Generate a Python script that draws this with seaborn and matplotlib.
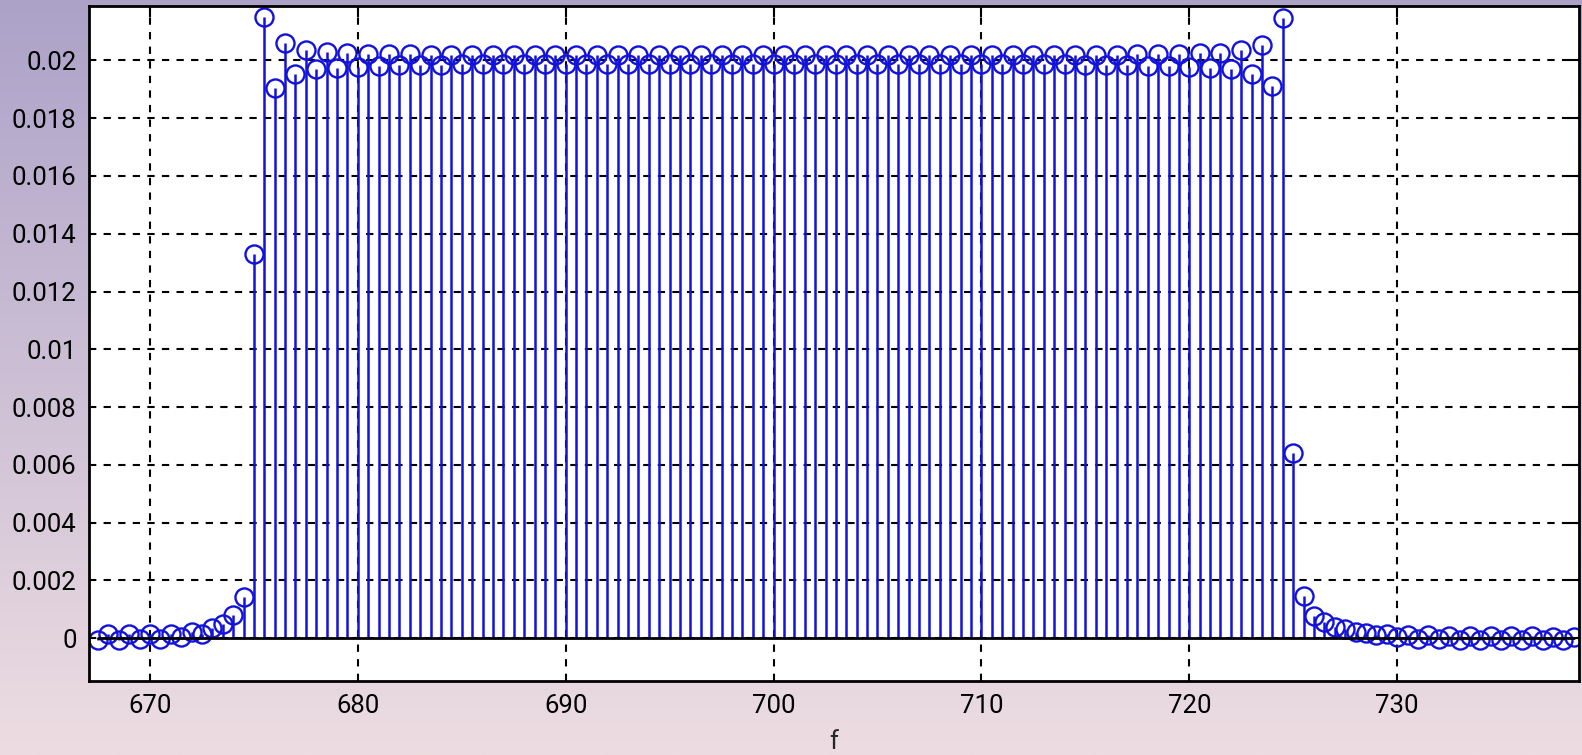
import matplotlib
matplotlib.use("Agg")
import matplotlib.pyplot as plt
import numpy as np
import seaborn as sns

# frequency grid (0.5 step) from 667.5 to 738.5
f = np.arange(667.5, 738.75, 0.5)

# left tail: 667.5 .. 675.0
left_tail = [
    -0.00005, 0.00013, -0.00005, 0.00014, -0.00004, 0.00015, -0.00002, 0.00016,
    0.00003, 0.00020, 0.00016, 0.00034, 0.00048, 0.00080, 0.00144, 0.01330,
]

# pass band: 675.5 .. 724.5
plateau = [
    0.02150, 0.01905, 0.02060, 0.01952, 0.02037, 0.01970, 0.02028, 0.01975,
    0.02024, 0.01978, 0.02022, 0.01981, 0.02021, 0.01983, 0.02021, 0.01984,
    0.02020, 0.01985, 0.02020, 0.01986, 0.02020, 0.01986, 0.02020, 0.01987,
    0.02020, 0.01987, 0.02019, 0.01987, 0.02019, 0.01987, 0.02019, 0.01988,
    0.02019, 0.01988, 0.02019, 0.01988, 0.02019, 0.01988, 0.02019, 0.01988,
    0.02019, 0.01988, 0.02019, 0.01988, 0.02019, 0.01988, 0.02019, 0.01988,
    0.02019, 0.01988, 0.02019, 0.01988, 0.02019, 0.01988, 0.02019, 0.01988,
    0.02019, 0.01988, 0.02019, 0.01988, 0.02019, 0.01988, 0.02019, 0.01988,
    0.02019, 0.01988, 0.02019, 0.01987, 0.02019, 0.01987, 0.02020, 0.01987,
    0.02020, 0.01986, 0.02020, 0.01986, 0.02020, 0.01986, 0.02020, 0.01985,
    0.02020, 0.01985, 0.02020, 0.01983, 0.02021, 0.01981, 0.02021, 0.01979,
    0.02022, 0.01976, 0.02024, 0.01973, 0.02026, 0.01970, 0.02035, 0.01953,
    0.02052, 0.01912, 0.02145,
]

# right tail: 725.0 .. 738.5
right_tail = [
    0.00640, 0.00145, 0.00076, 0.00055, 0.00040, 0.00032, 0.00022, 0.00018,
    0.00010, 0.00014, 0.00004, 0.00012, -0.00003, 0.00010, -0.00004, 0.00009,
    -0.00005, 0.00008, -0.00005, 0.00008, -0.00005, 0.00007, -0.00005, 0.00007,
    -0.00006, 0.00005, -0.00006, 0.00004,
]

amp = np.array(left_tail + plateau + right_tail)

x_ticks = [670, 680, 690, 700, 710, 720, 730]
y_ticks = [0, 0.002, 0.004, 0.006, 0.008, 0.01, 0.012, 0.014, 0.016, 0.018, 0.02]
y_labels = ["0", "0.002", "0.004", "0.006", "0.008", "0.01",
            "0.012", "0.014", "0.016", "0.018", "0.02"]

sns.set_style("white")
plt.rcParams["font.family"] = ["Roboto", "DejaVu Sans"]

fig = plt.figure(figsize=(15.82, 7.55), dpi=100)

# gradient backdrop, purple at the top to pink at the bottom
bg = fig.add_axes([0, 0, 1, 1], zorder=-10)
top = np.array([172, 162, 200]) / 255
bottom = np.array([237, 221, 226]) / 255
t = np.linspace(0, 1, 256)[:, None]
grad = top * (1 - t) + bottom * t
bg.imshow(grad[:, None, :].repeat(2, axis=1), aspect="auto", extent=[0, 1, 0, 1])
bg.axis("off")

ax = fig.add_axes([0.0563, 0.098, 0.9417, 0.894])
ax.set_facecolor("white")

blue = "#1212dc"
markers, stems, base = ax.stem(f, amp, linefmt="-", markerfmt="o", basefmt="k-")
plt.setp(stems, color=blue, linewidth=1.8)
plt.setp(markers, markerfacecolor="none", markeredgecolor=blue, markersize=13,
         markeredgewidth=1.7)
plt.setp(base, color="black", linewidth=2)

ax.set_xlim(667.07, 738.74)
ax.set_ylim(-0.00148, 0.02188)
ax.set_xticks(x_ticks)
ax.set_yticks(y_ticks)
ax.set_yticklabels(y_labels)

ax.grid(True, color="black", linestyle=(0, (3.5, 3.5)), linewidth=1.5)
ax.set_axisbelow(True)
ax.tick_params(direction="in", length=8, width=1.5, top=True, right=True,
               labelsize=18.5, pad=9, colors="black")
for s in ax.spines.values():
    s.set_color("black")
    s.set_linewidth(2)

ax.set_xlabel("f", fontsize=18.5, labelpad=9)

fig.savefig("out.png", dpi=100)
